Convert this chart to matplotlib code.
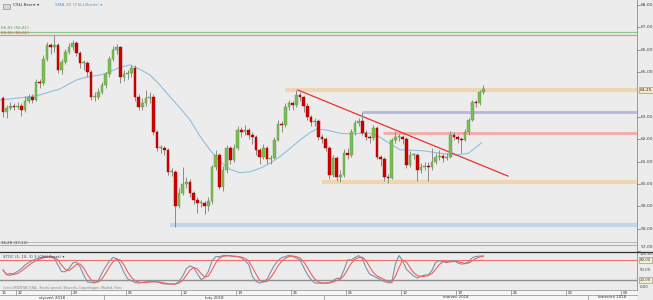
import numpy as np
import matplotlib
matplotlib.use('Agg')
import matplotlib.pyplot as plt
from matplotlib.lines import Line2D
from matplotlib.patches import Rectangle

# ---------------- data ----------------
first_open = 63.85
closes = [63.2, 63.4, 63.5, 63.45, 63.5, 63.3, 63.7, 63.9, 63.75, 64.55,
          64.5, 65.6, 66.2, 66.1, 66.2, 65.1, 65.45, 65.9, 66.1, 66.3,
          65.85, 65.4, 65.4, 65.0, 63.9, 63.9, 64.1, 64.4, 64.9, 65.6,
          66.0, 66.1, 64.8, 64.9, 64.95, 65.2, 63.9, 63.45, 63.6, 63.85,
          63.9, 62.3, 61.6, 61.6, 61.5, 60.55, 60.55, 59.0, 59.6, 60.0,
          60.1, 59.6, 59.3, 59.15, 59.15, 59.0, 59.25, 60.75, 61.3, 59.85,
          60.6, 61.6, 61.07, 61.6, 62.4, 62.3, 62.4, 62.2, 62.1, 61.5,
          61.2, 61.6, 61.1, 61.15, 61.96, 62.7, 62.65, 63.45, 63.6, 63.55,
          63.97, 63.9, 63.5, 62.99, 62.77, 62.8, 62.1, 62.0, 61.6, 60.4,
          61.15, 60.3, 60.4, 61.4, 61.3, 62.3, 62.72, 62.8, 62.27, 62.1,
          62.05, 62.5, 61.2, 61.1, 60.3, 60.27, 61.96, 62.1, 62.1, 62.0,
          60.85, 61.3, 61.3, 60.6, 60.76, 60.8, 60.76, 61.0, 61.2, 61.25,
          61.15, 61.2, 62.2, 62.1, 62.0, 61.95, 62.3, 62.85, 63.65, 63.6,
          64.1, 64.25]
highs = [63.95, 63.55, 63.65, 63.6, 63.65, 63.6, 63.95, 64.0, 64.0, 64.7,
         64.7, 65.75, 66.35, 66.3, 66.66, 66.3, 65.6, 66.05, 66.3, 66.45,
         66.4, 65.95, 65.55, 65.5, 65.1, 64.1, 64.3, 64.55, 65.0, 65.7,
         66.15, 66.25, 66.15, 65.1, 65.1, 65.3, 65.3, 64.0, 63.85, 64.2,
         64.1, 64.0, 62.4, 61.75, 61.7, 61.6, 60.7, 60.6, 59.8, 60.75,
         60.3, 60.2, 59.7, 59.4, 59.3, 59.25, 59.4, 60.85, 61.5, 61.4,
         60.8, 61.75, 61.7, 61.8, 62.6, 62.55, 62.65, 62.5, 62.3, 62.2,
         61.6, 61.8, 61.7, 61.3, 62.1, 62.85, 62.8, 63.6, 63.75, 63.7,
         64.2, 64.1, 63.95, 63.6, 63.1, 62.95, 62.9, 62.25, 62.1, 61.7,
         61.3, 61.25, 60.6, 61.55, 61.6, 62.45, 62.85, 62.95, 63.2, 62.4,
         62.2, 62.65, 62.6, 61.3, 61.2, 60.45, 62.05, 62.35, 62.25, 62.2,
         62.1, 61.45, 61.4, 61.4, 60.95, 61.0, 61.0, 61.6, 61.4, 61.5,
         61.35, 61.4, 62.35, 62.3, 62.2, 62.1, 62.45, 62.95, 63.75, 63.75,
         64.2, 64.42]
lows = [63.0, 62.95, 63.3, 63.3, 63.35, 63.05, 63.2, 63.6, 63.6, 63.7,
        64.3, 64.4, 65.5, 65.8, 65.9, 64.95, 64.9, 65.35, 65.8, 66.0,
        65.7, 65.2, 65.1, 64.8, 63.75, 63.7, 63.8, 64.0, 64.3, 64.8,
        65.5, 65.8, 64.5, 64.6, 64.7, 64.8, 63.7, 63.3, 63.3, 63.5,
        63.6, 62.2, 61.45, 61.4, 61.3, 60.4, 60.35, 58.07, 58.9, 59.5,
        59.8, 59.4, 59.1, 58.7, 58.95, 58.65, 58.8, 59.1, 60.6, 59.75,
        59.7, 60.5, 60.9, 61.0, 61.5, 62.1, 62.2, 62.0, 61.8, 61.3,
        60.9, 61.1, 60.9, 60.9, 61.1, 61.9, 62.3, 62.55, 63.3, 63.3,
        63.45, 63.7, 63.2, 62.85, 62.6, 62.6, 61.95, 61.85, 61.45, 60.2,
        60.3, 60.15, 60.1, 60.3, 61.1, 61.2, 62.2, 62.6, 62.2, 61.95,
        61.85, 61.95, 61.1, 60.8, 60.15, 60.05, 60.2, 61.85, 61.9, 61.8,
        60.7, 60.75, 61.1, 60.15, 60.5, 60.6, 60.15, 60.6, 60.9, 61.05,
        61.0, 61.05, 61.15, 61.95, 61.85, 61.4, 61.9, 62.2, 62.8, 63.45,
        63.55, 64.0]

# SMA 30 line (candle index, value)
ma_idx = [-0.8, 7.4, 10.1, 12.8, 15.5, 17.4, 20.1, 22.8, 26.5, 29.2,
          31.9, 34.6, 37.4, 40.1, 42.8, 45.5, 48.3, 51.0, 53.7, 56.4,
          59.2, 61.9, 64.6, 67.4, 70.1, 72.8, 75.5, 78.3, 81.0, 83.7,
          85.5, 88.3, 91.9, 95.5, 99.2, 101.9, 104.6, 108.3, 110.1, 114.6,
          119.2, 123.7, 126.9, 129.2, 130.5]
ma_val = [63.75, 63.9, 63.98, 64.12, 64.24, 64.42, 64.65, 64.78, 64.87, 65.02,
          65.21, 65.32, 65.12, 64.87, 64.42, 63.9, 63.39, 62.86, 62.14, 61.52,
          60.99, 60.65, 60.5, 60.54, 60.70, 60.92, 61.22, 61.59, 61.96, 62.29,
          62.45, 62.41, 62.26, 62.23, 62.29, 62.19, 61.89, 61.52, 61.52, 61.48,
          61.37, 61.29, 61.37, 61.66, 61.84]

# Stochastic %K (candle index, value)
stoch_idx = [0, 1.45, 4.6, 6.5, 8.3, 11, 13.7, 16, 17.4, 19.6,
             21, 22.8, 25.6, 27.4, 29.2, 30.5, 31.9, 33.7, 36.5, 39.2,
             41.9, 43.7, 47.4, 48.7, 50.5, 52.4, 53.7, 55.5, 57.4, 59.2,
             60.5, 62.8, 64.6, 66.9, 68.3, 70.1, 71.9, 73.7, 75.5, 78.3,
             81, 82.8, 84.6, 86.4, 89, 91, 92.4, 93.7, 95.5, 96.5,
             97.8, 99.6, 102.3, 104.6, 106, 107.4, 108.3, 110.1, 112.8, 114.6,
             116.4, 118.3, 121, 122.8, 124.6, 126.5, 128.3, 130.5]
stoch_k = [50, 30, 50, 70, 80, 90, 90, 45, 45, 80,
           60, 15, 10, 50, 80, 92, 70, 25, 10, 15,
           15, 8, 8, 25, 65, 55, 20, 30, 90, 90,
           95, 90, 90, 70, 20, 10, 20, 60, 85, 95,
           80, 40, 12, 10, 12, 25, 25, 80, 80, 95,
           90, 40, 25, 12, 12, 90, 95, 50, 25, 35,
           35, 80, 72, 80, 67, 70, 90, 92]

# horizontal levels: (price, first candle index)
lvl_orange_hi = (64.2, 76.9)
lvl_purple = (63.23, 97.9)
lvl_pink = (62.29, 103.6)
lvl_orange_lo = (60.1, 87.0)
lvl_blue = (58.16, 45.5)
lvl_green_top = 66.81
lvl_red_top = 66.66
trend_idx = [80.4, 137.7]
trend_val = [64.2, 60.35]

price_ticks = [68, 67, 66, 65, 63, 62, 61, 60, 59, 58, 57]
last_label = "64,25"
week_labels = ["22", "29", "05", "12", "19", "26", "05", "12", "19", "26", "02", "09"]
month_labels = ["styczeń 2018", "luty 2018", "marzec 2018", "kwiecień 2018"]
first_week_idx = 3.5      # candle index where week of 22 Jan starts
candles_per_week = 15
month_start_day = [-13, 8, 28, 52]   # trading days from 22 Jan (Jan 1, Feb 1, Mar 1, Apr 2)

# ---------------- layout helpers ----------------
W, H = 653, 300
fig = plt.figure(figsize=(W / 100, H / 100), dpi=100)
BG = '#ececec'
fig.patch.set_facecolor(BG)

def fx(px):
    return px / W

def fy(py):
    return 1 - py / H

XR = 637
X0, X1 = -0.82, 172.9

def x_to_px(i):
    return (i - X0) / (X1 - X0) * XR

ax = fig.add_axes([0, fy(242), fx(XR), (242) / H])
ax.set_facecolor(BG)
ax.set_xlim(X0, X1)
ymax = 68 + 5 / 22.36
ymin = 68 - 237 / 22.36
ax.set_ylim(ymin, ymax)
ax.set_xticks([]); ax.set_yticks([])
for s in ax.spines.values():
    s.set_visible(False)

# levels
ax.axhline(lvl_green_top, color='#8cc88c', lw=0.9)
ax.axhline(lvl_red_top, color='#f08c8c', lw=0.9)
ax.hlines(lvl_orange_hi[0], lvl_orange_hi[1], X1, color='#f0d6b0', lw=3)
ax.hlines(lvl_purple[0], lvl_purple[1], X1, color='#b4b8dc', lw=2)
ax.hlines(lvl_pink[0], lvl_pink[1], X1, color='#f2aaaa', lw=2)
ax.hlines(lvl_orange_lo[0], lvl_orange_lo[1], X1, color='#f0d6b0', lw=3)
ax.hlines(lvl_blue[0], lvl_blue[1], X1, color='#c2d8ea', lw=3)

# moving average
ax.plot(ma_idx, ma_val, color='#8fbfe0', lw=0.8)

# trendline
ax.plot(trend_idx, trend_val, color='#ee3030', lw=0.9)

# candles
opens = [first_open] + closes[:-1]
bw = 0.66
for i, (o, c, h, l) in enumerate(zip(opens, closes, highs, lows)):
    ax.vlines(i, l, h, color='#8a8a8a', lw=0.7, zorder=3)
    up = c >= o
    col = '#7cbb55' if up else '#d00000'
    ec = '#5c9a3c' if up else '#a00000'
    bot = min(o, c)
    hgt = max(abs(c - o), 0.04)
    ax.add_patch(Rectangle((i - bw / 2, bot), bw, hgt, facecolor=col,
                           edgecolor=ec, lw=0.3, zorder=4))

# top-left legend
fig.add_artist(Rectangle((fx(3), fy(9)), fx(7), 5 / H, facecolor='#d8d8d8',
                         edgecolor='#909090', lw=0.5))
fig.text(fx(13), fy(5.5), "CSLI.Brent ▾", fontsize=3.2, color='#333333', va='center')
fig.text(fx(55), fy(5.5), "SMA 30 (CSLI.Brent) ▾", fontsize=3.2, color='#5a9ad0', va='center')
fig.text(fx(1), fy(28), "66,81 (66,81)", fontsize=3.0, color='#5aa05a', va='center')
fig.text(fx(1), fy(33), "66,66 (66,66)", fontsize=3.0, color='#e05050', va='center')

# right axis
fig.add_artist(Line2D([fx(XR), fx(XR)], [fy(0), fy(290)], color='#9a9a9a', lw=0.7))
for p in price_ticks:
    py = 5 + (68 - p) * 22.36
    fig.add_artist(Line2D([fx(XR), fx(XR + 3)], [fy(py), fy(py)], color='#777777', lw=0.5))
    ty = min(py, 246.5)
    fig.text(fx(641), fy(ty), f"{p:.2f}".replace('.', ','), fontsize=3.2,
             color='#444444', va='center')
py = 5 + (68 - 64.2) * 22.36
fig.text(fx(640), fy(py), last_label, fontsize=3.2, color='#333333', va='center',
         bbox=dict(boxstyle='square,pad=0.25', facecolor='#f4e6c8', edgecolor='#888866', lw=0.4))

# separators
fig.add_artist(Line2D([0, fx(XR)], [fy(242), fy(242)], color='#b0b0b0', lw=0.6))
fig.add_artist(Line2D([0, fx(XR)], [fy(245), fy(245)], color='#a0a0a0', lw=0.6))
fig.add_artist(Line2D([0, 1], [fy(251.5), fy(251.5)], color='#303030', lw=0.9))
fig.text(fx(1), fy(243), "36,28 (37,22)", fontsize=2.8, color='#444444', va='center')

# stochastic panel
sax = fig.add_axes([0, fy(289), fx(XR), (289 - 252) / H])
sax.set_facecolor(BG)
sax.patch.set_alpha(0)
sax.set_xlim(X0, X1)
lo_L = (286.7 - 289) / 0.334
hi_L = (286.7 - 252) / 0.334
sax.set_ylim(lo_L, hi_L)
sax.set_xticks([]); sax.set_yticks([])
for s in sax.spines.values():
    s.set_visible(False)
sax.axhline(80, color='#f07070', lw=0.8)
sax.axhline(20, color='#909090', lw=1.0)
grid = np.arange(0, len(closes))
k_line = np.interp(grid, stoch_idx, stoch_k)
d_line = np.convolve(k_line, np.ones(3) / 3, mode='full')[:len(k_line)]
d_line[:2] = k_line[:2]
sax.plot(grid, k_line, color='#8090a8', lw=0.8)
sax.plot(grid, d_line, color='#f06060', lw=0.8)
fig.text(fx(3), fy(257), "STOC (5, 10, 3) 3 (CSLI.Brent) ▾", fontsize=2.8, color='#444444', va='center')

for L, lab, boxed in [(100, "100,00", False), (80, "80,00", True), (50, "50,00", False),
                      (20, "20,00", True), (0, "0,00", False)]:
    py = 286.7 - 0.334 * L
    if L == 100:
        py = 254
    kw = {}
    if boxed:
        kw['bbox'] = dict(boxstyle='square,pad=0.2', facecolor='#f4f0d8', edgecolor='#888866', lw=0.4)
    fig.text(fx(640), fy(py), lab, fontsize=2.8, color='#444444', va='center', **kw)

fig.text(fx(3), fy(287.5), "Cena ORIENTACYJNA - Średni spread: Brussels, Copenhagen, Madrid, Paris",
         fontsize=2.3, color='#888888', va='center')

# date rows
fig.add_artist(Line2D([0, fx(XR)], [fy(290), fy(290)], color='#8a8a8a', lw=0.5))
fig.add_artist(Line2D([0, fx(XR)], [fy(295), fy(295)], color='#8a8a8a', lw=0.5))
fig.add_artist(Rectangle((0, 0), fx(XR), 10 / H, facecolor='#f6f6f6', edgecolor='none', zorder=-1))
fig.text(fx(2), fy(292.5), "15", fontsize=2.8, color='#333333', va='center')
for k, lab in enumerate(week_labels):
    wi = first_week_idx + candles_per_week * k
    px = x_to_px(wi)
    fig.add_artist(Line2D([fx(px), fx(px)], [fy(290), fy(295)], color='#8a8a8a', lw=0.5))
    fig.text(fx(px + 1.5), fy(292.5), lab, fontsize=2.8, color='#333333', va='center')
mb = [x_to_px(first_week_idx + 3 * d) for d in month_start_day] + [XR]
for m, lab in enumerate(month_labels):
    a = max(mb[m], 0)
    b = mb[m + 1]
    if m > 0:
        fig.add_artist(Line2D([fx(a), fx(a)], [fy(295), fy(300)], color='#8a8a8a', lw=0.5))
    fig.text(fx((a + b) / 2), fy(297.5), lab, fontsize=2.8, color='#333333',
             va='center', ha='center')

fig.savefig('out.png', dpi=100, facecolor=BG)
